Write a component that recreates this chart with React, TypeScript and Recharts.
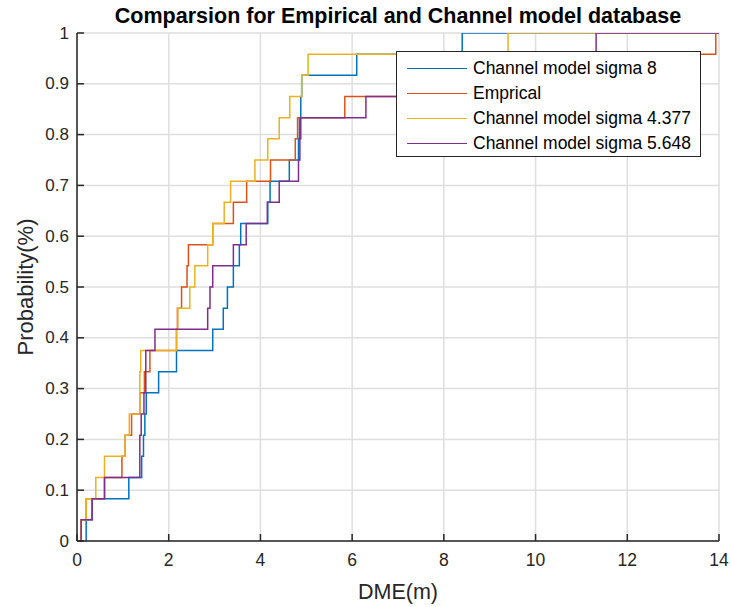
import { CartesianGrid, Legend, Line, LineChart, XAxis, YAxis } from "recharts";

// sorted DME samples (m), 24 per series
const sigma8Dme = [
  0.2, 0.33, 1.13, 1.41, 1.45, 1.48, 1.51, 1.78, 2.17, 2.96, 3.19, 3.28,
  3.41, 3.54, 3.57, 4.16, 4.21, 4.63, 4.83, 4.85, 4.88, 4.9, 6.1, 8.4,
];
const empiricalDme = [
  0.09, 0.2, 0.6, 0.98, 1.05, 1.19, 1.37, 1.47, 1.59, 2.17, 2.19, 2.28,
  2.4, 2.43, 2.96, 3.41, 3.7, 4.22, 4.76, 4.81, 5.84, 7.9, 10.6, 13.93,
];
const sigma4377Dme = [
  0.09, 0.2, 0.41, 0.6, 1.05, 1.14, 1.37, 1.37, 1.39, 2.17, 2.2, 2.46,
  2.57, 2.85, 2.96, 3.21, 3.35, 3.88, 4.16, 4.41, 4.64, 4.9, 5.04, 9.4,
];
const sigma5648Dme = [
  0.09, 0.33, 0.6, 1.37, 1.37, 1.4, 1.46, 1.5, 1.5, 1.7, 2.85, 2.9,
  2.96, 3.41, 3.69, 4.15, 4.41, 4.83, 4.86, 4.88, 6.3, 7.6, 9.0, 11.32,
];

const seriesNames = [
  "Channel model sigma 8",
  "Emprical",
  "Channel model sigma 4.377",
  "Channel model sigma 5.648",
];
const seriesColors = ["#0072BD", "#D95319", "#EDB120", "#7E2F8E"];

const xTicks = [0, 2, 4, 6, 8, 10, 12, 14];
const yTicks = [0, 0.1, 0.2, 0.3, 0.4, 0.5, 0.6, 0.7, 0.8, 0.9, 1];

const chartTitle = "Comparsion for Empirical and Channel model database";
const AXIS = "#262626";
const FONT = "'Liberation Sans', Arial, Helvetica, sans-serif";

// empirical cdf points for a stepAfter line
function toEcdf(samples: number[], xMax: number) {
  const n = samples.length;
  const pts = [{ x: samples[0], y: 0 }];
  samples.forEach((v, i) => pts.push({ x: v, y: (i + 1) / n }));
  pts.push({ x: xMax, y: 1 });
  return pts;
}

const allSeries = [sigma8Dme, empiricalDme, sigma4377Dme, sigma5648Dme];

function BottomTick({ x, y, payload }: any) {
  return (
    <g>
      <line x1={x} y1={y} x2={x} y2={y - 7} stroke={AXIS} strokeWidth={1.5} />
      <text x={x} y={y + 25} textAnchor="middle" fontSize={17.5} fill={AXIS}>
        {payload.value}
      </text>
    </g>
  );
}

function TopTick({ x, y }: any) {
  return <line x1={x} y1={y} x2={x} y2={y + 7} stroke={AXIS} strokeWidth={1.5} />;
}

function LeftTick({ x, y, payload }: any) {
  return (
    <g>
      <line x1={x} y1={y} x2={x + 7} y2={y} stroke={AXIS} strokeWidth={1.5} />
      <text x={x - 8} y={y} textAnchor="end" dominantBaseline="central" fontSize={17} fill={AXIS}>
        {String(payload.value)}
      </text>
    </g>
  );
}

function RightTick({ x, y }: any) {
  return <line x1={x} y1={y} x2={x - 7} y2={y} stroke={AXIS} strokeWidth={1.5} />;
}

function LegendBox({ payload }: any) {
  const items = [...(payload || [])].sort(
    (a: any, b: any) => seriesNames.indexOf(a.value) - seriesNames.indexOf(b.value)
  );
  return (
    <div
      style={{
        width: 305,
        height: 106,
        boxSizing: "border-box",
        border: `1px solid ${AXIS}`,
        background: "#fff",
        paddingTop: 4,
        fontFamily: FONT,
      }}
    >
      {items.map((entry: any) => (
        <div key={entry.value} style={{ display: "flex", alignItems: "center", height: 25 }}>
          <div style={{ marginLeft: 10, width: 60, borderTop: `1.5px solid ${entry.color}` }} />
          <span style={{ marginLeft: 6, fontSize: 17.5, color: "#000", whiteSpace: "nowrap" }}>
            {entry.value}
          </span>
        </div>
      ))}
    </div>
  );
}

export default function App() {
  return (
    <div style={{ position: "absolute", left: 0, top: 0, fontFamily: FONT, background: "#fff" }}>
      <LineChart width={731} height={607} margin={{ top: 33, right: 12, bottom: 0, left: 0 }}>
        <CartesianGrid stroke="#dedede" strokeWidth={1.5} />
        {allSeries.map((s, i) => (
          <Line
            key={seriesNames[i]}
            data={toEcdf(s, 14)}
            dataKey="y"
            name={seriesNames[i]}
            type="stepAfter"
            stroke={seriesColors[i]}
            strokeWidth={1.5}
            dot={false}
            activeDot={false}
            isAnimationActive={false}
          />
        ))}
        <XAxis
          dataKey="x"
          type="number"
          domain={[0, 14]}
          ticks={xTicks}
          allowDataOverflow
          height={66}
          tickSize={0}
          tickMargin={0}
          tickLine={false}
          tick={<BottomTick />}
          axisLine={{ stroke: AXIS, strokeWidth: 1.5 }}
          label={({ viewBox }: any) => (
            <g>
              <text
                x={viewBox.x + viewBox.width / 2}
                y={viewBox.y + 58}
                textAnchor="middle"
                fontSize={21.5}
                fill={AXIS}
              >
                DME(m)
              </text>
              <text
                x={viewBox.x + viewBox.width / 2}
                y={23}
                textAnchor="middle"
                fontSize={21.5}
                fontWeight="bold"
                fill="#000"
              >
                {chartTitle}
              </text>
            </g>
          )}
        />
        <XAxis
          xAxisId="top"
          orientation="top"
          dataKey="x"
          type="number"
          domain={[0, 14]}
          ticks={xTicks}
          allowDataOverflow
          height={0}
          tickSize={0}
          tickMargin={0}
          tickLine={false}
          tick={<TopTick />}
          axisLine={{ stroke: AXIS, strokeWidth: 1.5 }}
        />
        <YAxis
          type="number"
          domain={[0, 1]}
          ticks={yTicks}
          allowDataOverflow
          width={77}
          tickSize={0}
          tickMargin={0}
          tickLine={false}
          tick={<LeftTick />}
          axisLine={{ stroke: AXIS, strokeWidth: 1.5 }}
          label={({ viewBox }: any) => {
            const cx = viewBox.x + 25;
            const cy = viewBox.y + viewBox.height / 2;
            return (
              <text
                x={cx}
                y={cy}
                transform={`rotate(-90 ${cx} ${cy})`}
                textAnchor="middle"
                dominantBaseline="central"
                fontSize={22}
                fill={AXIS}
              >
                Probability(%)
              </text>
            );
          }}
        />
        <YAxis
          yAxisId="right"
          orientation="right"
          type="number"
          domain={[0, 1]}
          ticks={yTicks}
          allowDataOverflow
          width={0}
          tickSize={0}
          tickMargin={0}
          tickLine={false}
          tick={<RightTick />}
          axisLine={{ stroke: AXIS, strokeWidth: 1.5 }}
        />
        <Legend
          layout="horizontal"
          verticalAlign="middle"
          align="center"
          wrapperStyle={{ left: 396, top: 51, width: 305, height: 106 }}
          content={<LegendBox />}
        />
      </LineChart>
    </div>
  );
}
